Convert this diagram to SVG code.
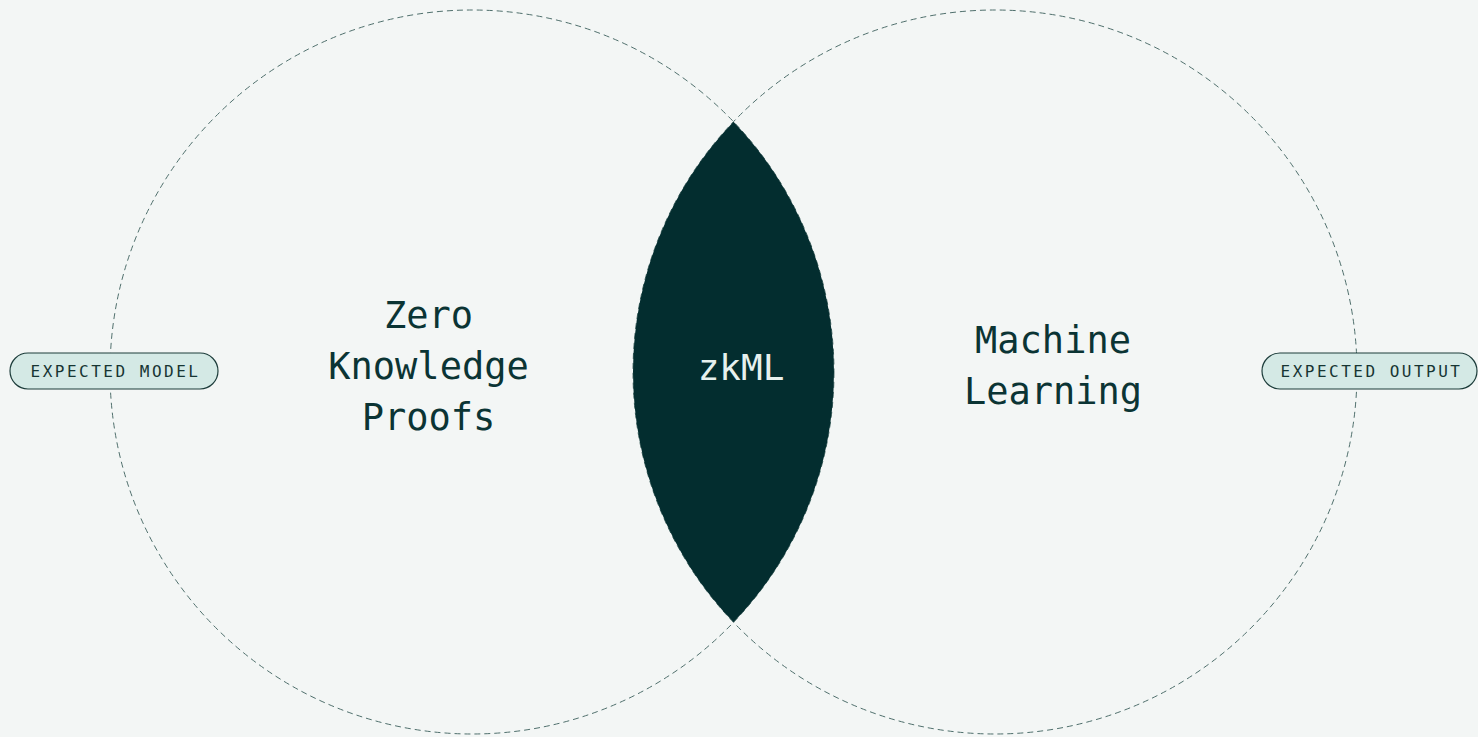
<svg xmlns="http://www.w3.org/2000/svg" width="1478" height="737" viewBox="0 0 1478 737">
<style>
.circ{fill:none;stroke:#4f6f6c;stroke-width:1;stroke-dasharray:6 4}
.big{font-family:"DejaVu Sans Mono","Liberation Mono",monospace;font-size:37px;fill:#0b3434;text-anchor:middle}
.pill rect{fill:#d4e9e5;stroke:#1d3d3b;stroke-width:1.2}
.pill text{font-family:"DejaVu Sans Mono","Liberation Mono",monospace;font-size:16px;fill:#173533;letter-spacing:2.5px;text-anchor:middle}
</style>
<rect width="1478" height="737" fill="#f3f6f5"/>
<g id="connectors"></g>
<g id="zkp">
<circle class="circ" cx="472" cy="372" r="362"/>
<text class="big" x="428.5" y="328">Zero</text>
<text class="big" x="428.5" y="379">Knowledge</text>
<text class="big" x="428.5" y="430">Proofs</text>
</g>
<g id="ml">
<circle class="circ" cx="995" cy="372" r="362"/>
<text class="big" x="1053" y="353">Machine</text>
<text class="big" x="1053" y="404">Learning</text>
</g>
<g id="zkml">
<path d="M733.5 121.7 A362 362 0 0 1 733.5 622.3 A362 362 0 0 1 733.5 121.7 Z" fill="#032d2f"/>
<text x="741" y="380" font-family="DejaVu Sans Mono,Liberation Mono,monospace" font-size="36" fill="#e6f0ee" text-anchor="middle">zkML</text>
</g>
<g id="expected-model" class="pill">
<rect x="10" y="353" width="208" height="36" rx="18"/>
<text x="115.5" y="377">EXPECTED MODEL</text>
</g>
<g id="expected-output" class="pill">
<rect x="1262" y="353" width="215" height="36" rx="18"/>
<text x="1371.5" y="377">EXPECTED OUTPUT</text>
</g>
</svg>
